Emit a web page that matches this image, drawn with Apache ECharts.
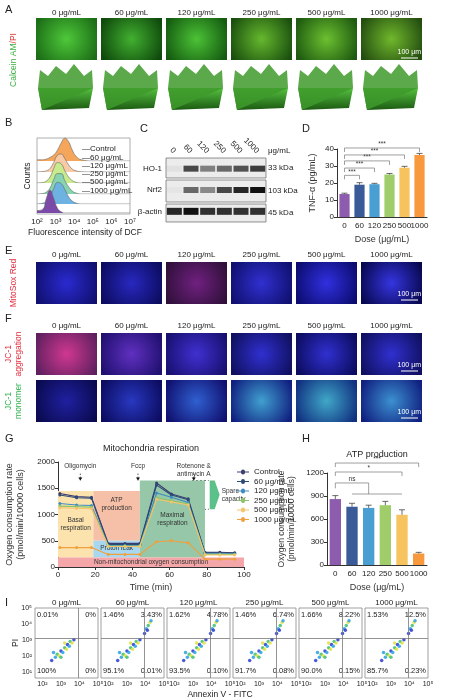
<!DOCTYPE html>
<html><head><meta charset="utf-8">
<script src="https://cdn.jsdelivr.net/npm/echarts@6/dist/echarts.min.js"></script>
<style>html,body{margin:0;padding:0;background:#fff}#c{width:452px;height:700px}</style>
</head><body><div id="c"></div>
<script>
// ---------- DATA ----------
const doses = ['0','60','120','250','500','1000'];
const doseHeaders = ['0 μg/mL','60 μg/mL','120 μg/mL','250 μg/mL','500 μg/mL','1000 μg/mL'];
const barColors = ['#8e5cae','#3b5b98','#4a9fd2','#9fcd6a','#f6c35e','#f7993c'];
// D: TNF-a
const tnfValues = [13.5, 19, 19.3, 25, 29, 36.5];
const tnfErr = [0.5, 1.2, 0.5, 0.6, 0.8, 0.9];
const tnfBrackets = [[1,24.5],[2,28.8],[3,33],[4,36.5],[5,40.6]];
// H: ATP production
const atpValues = [860, 760, 745, 780, 655, 150];
const atpErr = [45, 45, 35, 50, 65, 15];
// G: respiration
const timePoints = [1,10,18,27,36,44,53,61,70,79,87,95];
const gSeriesNames = ['Control','60 μg/mL','120 μg/mL','250 μg/mL','500 μg/mL','1000 μg/mL'];
const gColors = ['#3c3c70','#2b4a78','#3d8bbf','#8cc46c','#f3c46d','#f0a03e'];
const ocrControl = [1400,1340,1330,450,450,450,1600,1390,1300,280,280,270];
const ocr60      = [1370,1320,1310,430,430,430,1560,1370,1280,270,270,260];
const ocr120     = [1210,1180,1170,410,410,410,1410,1330,1230,250,250,250];
const ocr250     = [1160,1150,1140,400,400,400,1320,1260,1200,240,240,240];
const ocr500     = [1130,1120,1110,390,390,390,1290,1240,1180,230,230,230];
const ocr1000    = [370,370,370,240,240,240,480,500,460,150,150,150];
const ocrAll = [ocrControl, ocr60, ocr120, ocr250, ocr500, ocr1000];
// B: DCF histograms (top to bottom)
const histX = [2,2.3,2.5,2.7,2.9,3.1,3.3,3.5,3.7,3.9,4.1,4.4,5,7];
const histRows = [
  [0.05,0.05,0.08,0.15,0.25,0.45,0.75,0.95,0.8,0.45,0.2,0.05,0,0],
  [0,0.02,0.05,0.15,0.4,0.7,0.75,0.55,0.3,0.12,0.05,0.01,0,0],
  [0,0.02,0.08,0.25,0.6,0.85,0.8,0.5,0.25,0.1,0.03,0,0,0],
  [0,0.02,0.08,0.25,0.6,0.85,0.85,0.55,0.3,0.12,0.04,0,0,0],
  [0,0.03,0.1,0.3,0.65,0.9,0.85,0.6,0.3,0.12,0.04,0,0,0],
  [0.1,0.15,0.6,0.95,0.6,0.2,0.05,0,0,0,0,0,0,0]
];
const histColors = ['#f6a65a','#f8caa6','#c8eb8e','#86d4b0','#6eb2e2','#7b4aa8'];
const histLegend = ['Control','60 μg/mL','120 μg/mL','250 μg/mL','500 μg/mL','1000 μg/mL'];
// C: western blot band intensities
const blotRows = ['β-actin','Nrf2','HO-1'];
const bandHO1 = [0.05,0.75,0.5,0.6,0.7,0.8];
const bandNrf2 = [0.03,0.6,0.45,0.75,0.9,1.0];
const bandActin = [0.9,1.0,0.85,0.85,0.85,0.85];
// I: apoptosis quadrants
const quadUL = ['0.01%','1.46%','1.62%','1.46%','1.66%','1.53%'];
const quadUR = ['0%','3.43%','4.78%','6.74%','8.22%','12.5%'];
const quadLL = ['100%','95.1%','93.5%','91.7%','90.0%','85.7%'];
const quadLR = ['0%','0.01%','0.10%','0.08%','0.15%','0.23%'];
const cloudPts = [[2.5,1.7],[2.7,1.9],[2.8,2.1],[2.9,2.0],[3.0,2.3],[3.1,2.2],[3.2,2.5],[3.3,2.4],[3.35,2.7],[3.45,2.6],[3.5,2.9],[3.6,2.8],[3.7,3.0],[2.6,2.2],[3.0,1.9],[3.2,2.8]];
const clusterPts = [[3.95,3.4],[4.05,3.7],[4.15,3.9],[4.25,4.1],[4.1,3.6],[4.3,4.2]];
const pow = ['10⁰','10¹','10²','10³','10⁴','10⁵','10⁶','10⁷'];

// ---------- LAYOUT ----------
const FONT = 'Liberation Sans';
const imgX = [36,101,166,231,296,361], imgW = 61;
const grids = [], xAxes = [], yAxes = [], series = [];
function addGrid(gr, xa, ya){ grids.push(gr); const i = grids.length-1; xa.gridIndex=i; ya.gridIndex=i; xAxes.push(xa); yAxes.push(ya); return i; }
const axisTxt = {fontFamily:FONT, fontSize:8, color:'#222'};
const lineK = {lineStyle:{color:'#333',width:1}};
const plain = v=>String(v);

// B ridges
const ridgeBase = [161,172,183,194,204,213];
addGrid({left:37,top:138,width:93,height:76,show:true,borderColor:'#999',borderWidth:0.8},
  {type:'value',min:2,max:7,interval:1,axisLine:{show:false},axisTick:{show:false},splitLine:{show:false},
   axisLabel:Object.assign({formatter:v=>pow[v],margin:4},axisTxt)},
  {type:'value',min:0,max:1,show:false});
histRows.forEach((row,i)=>{
  const gi = addGrid({left:37,top:ridgeBase[i]-24,width:93,height:24},
    {type:'value',min:2,max:7,show:false},{type:'value',min:0,max:1,show:false});
  series.push({type:'line',xAxisIndex:gi,yAxisIndex:gi,data:histX.map((x,k)=>[x,row[k]]),smooth:0.5,symbol:'none',
    lineStyle:{width:0.6,color:'#666'},areaStyle:{color:histColors[i],opacity:1},z:10+i});
});

// C blot
const cG = addGrid({left:166,top:158,width:100,height:64},
  {type:'category',data:doses,position:'top',axisLine:{show:false},axisTick:{show:false},
   axisLabel:Object.assign({rotate:45,margin:6},axisTxt)},
  {type:'category',data:blotRows,axisLine:{show:false},axisTick:{show:false},
   axisLabel:Object.assign({margin:4},axisTxt)});
[bandActin,bandNrf2,bandHO1].forEach((b,r)=>{
  series.push({type:'scatter',xAxisIndex:cG,yAxisIndex:cG,symbol:'rect',symbolSize:[15,r===0?7:6],
    data:b.map((v,k)=>({value:[k,r],itemStyle:{opacity:v,color:'#111'}})),z:5});
});

// D TNF
const dG = addGrid({left:337,top:149,width:90,height:68},
  {type:'category',data:doses,axisLine:lineK,axisTick:{show:false},axisLabel:Object.assign({margin:5,interval:0},axisTxt),
   name:'Dose (μg/mL)',nameLocation:'middle',nameGap:18,nameTextStyle:{fontFamily:FONT,fontSize:9}},
  {type:'value',min:0,max:40,interval:10,axisLine:Object.assign({show:true},lineK),axisTick:{show:true,length:3},splitLine:{show:false},
   axisLabel:Object.assign({margin:3},axisTxt),name:'TNF-α (pg/mL)',nameLocation:'middle',nameGap:20,nameTextStyle:{fontFamily:FONT,fontSize:9}});
series.push({type:'bar',xAxisIndex:dG,yAxisIndex:dG,barWidth:'68%',data:tnfValues.map((v,i)=>({value:v,itemStyle:{color:barColors[i]}}))});
function errSeries(gi, vals, errs){
  return {type:'custom',xAxisIndex:gi,yAxisIndex:gi,z:5,data:vals.map((v,i)=>[i,v,errs[i]]),
    renderItem:(p,api)=>{const x=api.value(0),v=api.value(1),e=api.value(2);
      const a=api.coord([x,v]),b=api.coord([x,v+e]);
      return {type:'group',children:[
        {type:'line',shape:{x1:a[0],y1:a[1],x2:b[0],y2:b[1]},style:{stroke:'#444',lineWidth:0.8}},
        {type:'line',shape:{x1:b[0]-3,y1:b[1],x2:b[0]+3,y2:b[1]},style:{stroke:'#444',lineWidth:0.8}}]};}};
}
series.push(errSeries(dG,tnfValues,tnfErr));

// G respiration
const gG = addGrid({left:58,top:462,width:186,height:105},
  {type:'value',min:0,max:100,interval:20,axisLine:lineK,axisTick:{length:3},splitLine:{show:false},axisLabel:Object.assign({margin:4},axisTxt),
   name:'Time (min)',nameLocation:'middle',nameGap:16,nameTextStyle:{fontFamily:FONT,fontSize:9}},
  {type:'value',min:0,max:2000,interval:500,axisLine:Object.assign({show:true},lineK),axisTick:{show:true,length:3},splitLine:{show:false},
   axisLabel:Object.assign({margin:3,formatter:plain},axisTxt),name:'Oxygen consumption rate\n(pmol/min/10000 cells)',nameLocation:'middle',nameGap:32,
   nameTextStyle:{fontFamily:FONT,fontSize:9,lineHeight:11}});
const maLbl = (t,pos)=>({show:true,position:pos||'inside',formatter:t,fontFamily:FONT,fontSize:6.5,color:'#333',lineHeight:8});
ocrAll.forEach((arr,i)=>{
  const s = {type:'line',name:gSeriesNames[i],xAxisIndex:gG,yAxisIndex:gG,data:timePoints.map((t,k)=>[t,arr[k]]),
    symbol:'circle',symbolSize:3,lineStyle:{width:1.1,color:gColors[i]},itemStyle:{color:gColors[i]},z:10+i};
  if(i===0){ s.markArea={silent:true,z:1,data:[
    [{coord:[0,180],itemStyle:{color:'#fce3ae'},label:maLbl('Basal\nrespiration')},{coord:[19,1450]}],
    [{coord:[19,500],itemStyle:{color:'#f6c0a8'},label:maLbl('ATP\nproduction','insideTop')},{coord:[44,1450]}],
    [{coord:[19,180],itemStyle:{color:'#a8d8f0'},label:maLbl('Proton leak','insideBottom')},{coord:[44,500]}],
    [{coord:[44,180],itemStyle:{color:'#95c7a8'},label:maLbl('Maximal\nrespiration')},{coord:[79,1650]}],
    [{coord:[0,0],itemStyle:{color:'#f4a6a8'},label:maLbl('Non-mitochondrial oxygen consumption')},{coord:[100,180]}]
  ]}; }
  series.push(s);
});

// H ATP
const hG = addGrid({left:327,top:473,width:100,height:92},
  {type:'category',data:doses,axisLine:lineK,axisTick:{show:false},axisLabel:Object.assign({margin:5,interval:0},axisTxt),
   name:'Dose (μg/mL)',nameLocation:'middle',nameGap:18,nameTextStyle:{fontFamily:FONT,fontSize:9}},
  {type:'value',min:0,max:1200,interval:300,axisLine:Object.assign({show:true},lineK),axisTick:{show:true,length:3},splitLine:{show:false},
   axisLabel:Object.assign({margin:3,formatter:plain},axisTxt),name:'Oxygen consumption rate\n(pmol/min/10000 cells)',nameLocation:'middle',nameGap:30,
   nameTextStyle:{fontFamily:FONT,fontSize:8.5,lineHeight:10}});
series.push({type:'bar',xAxisIndex:hG,yAxisIndex:hG,barWidth:'68%',data:atpValues.map((v,i)=>({value:v,itemStyle:{color:barColors[i]}}))});
series.push(errSeries(hG,atpValues,atpErr));

// I apoptosis
const iX = [35,101,167,233,299,365], iW = 63;
iX.forEach((x,p)=>{
  const gi = addGrid({left:x,top:608,width:iW,height:70,show:true,borderColor:'#888',borderWidth:0.8},
    {type:'value',min:1.6,max:5,interval:1,axisLine:{show:false},axisTick:{show:false},splitLine:{show:false},
     axisLabel:Object.assign({formatter:v=>Number.isInteger(v)?pow[v]:'',margin:3,customValues:[2,3,4,5]},axisTxt,{fontSize:7})},
    {type:'value',min:0.6,max:5,axisLine:{show:false},axisTick:{show:false},splitLine:{show:false},
     axisLabel:Object.assign({show:p===0,formatter:v=>pow[v],margin:3,customValues:[1,2,3,4,5]},axisTxt,{fontSize:7})});
  const pts = p===0? cloudPts : cloudPts.concat(clusterPts);
  series.push({type:'scatter',xAxisIndex:gi,yAxisIndex:gi,data:pts,symbolSize:3.5,
    itemStyle:{color:(d)=>['#2a3bd0','#2aa0e0','#3cc070','#e0e040'][d.dataIndex%4],opacity:0.85},
    markLine:{silent:true,symbol:'none',lineStyle:{color:'#777',width:0.8,type:'solid'},label:{show:false},data:[{xAxis:3.95},{yAxis:3.1}]}});
});

// ---------- GRAPHIC ----------
const g = [];
const txt = (x,y,t,o)=>g.push(Object.assign({type:'text',x,y,style:Object.assign({text:t,fontFamily:FONT,fontSize:8.5,fill:'#222'},o||{})}));
const vtxt = (x,y,t,o)=>g.push({type:'text',x,y,rotation:Math.PI/2,style:Object.assign({text:t,fontFamily:FONT,fontSize:8.5,fill:'#222',align:'center',verticalAlign:'middle'},o||{})});
['A','B','C','D','E','F','G','H','I'].forEach((L,i)=>{
  const pos=[[5,4],[5,117],[140,123],[302,123],[5,245],[5,313],[5,433],[302,433],[5,597]][i];
  txt(pos[0],pos[1],L,{fontSize:11});
});
function headers(y){ doseHeaders.forEach((h,i)=>txt(imgX[i]+imgW/2,y,h,{align:'center',fontSize:8})); }
function rectImg(x,y,w,h,c1,c2){ g.push({type:'rect',shape:{x,y,width:w,height:h},style:{fill:{type:'radial',x:0.5,y:0.5,r:0.8,colorStops:[{offset:0,color:c1},{offset:1,color:c2}]}}}); }
function scale(x,y){ txt(x,y,'100 μm',{fill:'#fff',fontSize:7,align:'right'}); g.push({type:'line',shape:{x1:x-20,y1:y+9,x2:x-3,y2:y+9},style:{stroke:'#fff',lineWidth:1}}); }
// A
headers(9);
const aColors=[['#4ec83a','#1c6e16'],['#42b030','#0f4a0c'],['#4cc236','#145c10'],['#66b82e','#1a500e'],['#6cc030','#1e5a10'],['#70b82c','#244e10']];
imgX.forEach((x,i)=>{ rectImg(x,18,imgW,42,aColors[i][0],aColors[i][1]);
  g.push({type:'polygon',shape:{points:[[x+2,88],[x+imgW-4,88],[x+imgW-8,108],[x+6,110]]},style:{fill:{type:'linear',x:0,y:0,x2:0,y2:1,colorStops:[{offset:0,color:'#55c040'},{offset:1,color:'#1c5a12'}]}}});
  g.push({type:'polygon',shape:{points:[[x+6,110],[x+2,88],[x+4,70],[x+12,76],[x+20,66],[x+30,74],[x+38,64],[x+48,76],[x+56,70],[x+imgW-4,88]]},style:{fill:'#3e9a2c',opacity:0.85}});
});
scale(421,49);
g.push({type:'text',x:14,y:60,rotation:Math.PI/2,style:{rich:{a:{fill:'#3cb043',fontSize:8.5,fontFamily:FONT},b:{fill:'#e03030',fontSize:8.5,fontFamily:FONT}},text:'{a|Calcein AM}{b|/PI}',align:'center',verticalAlign:'middle'}});
// E
headers(251);
const eColors=[['#2a2ad0','#101070'],['#2828c0','#0c0c60'],['#702080','#30103a'],['#3030d0','#101070'],['#3030e0','#0c0c70'],['#3535e0','#080850']];
imgX.forEach((x,i)=>rectImg(x,262,imgW,42,eColors[i][0],eColors[i][1]));
scale(421,291);
vtxt(14,283,'MitoSox Red',{fill:'#e03040'});
// F
headers(322);
const fA=[['#d03890','#602060'],['#6030c0','#201070'],['#4030d0','#181070'],['#3030d0','#101060'],['#3030d0','#0c0c60'],['#3030d0','#101060']];
const fM=[['#2020a0','#0a0a50'],['#2838c0','#0c0c60'],['#3060d0','#101070'],['#40a0d0','#102080'],['#40a8c8','#103080'],['#3c90d0','#102080']];
imgX.forEach((x,i)=>{rectImg(x,333,imgW,42,fA[i][0],fA[i][1]); rectImg(x,380,imgW,42,fM[i][0],fM[i][1]);});
scale(421,362); scale(421,409);
vtxt(14,354,'JC-1\naggregation',{fill:'#e03040',lineHeight:10});
vtxt(14,401,'JC-1\nmonomer',{fill:'#30b050',lineHeight:10});
// B texts
vtxt(28,176,'Counts');
histLegend.forEach((t,i)=>txt(82,145+i*8.3,'—'+t,{fontSize:8}));
txt(85,228,'Fluorescence intensity of DCF',{align:'center',fontSize:8.5});
// C blot row backgrounds
[[158,20],[180,22],[204,18]].forEach(r=>g.push({type:'rect',z:-1,shape:{x:166,y:r[0],width:100,height:r[1]},style:{fill:'#ececec',stroke:'#666',lineWidth:0.7}}));
txt(268,147,'μg/mL',{fontSize:8});
[['33 kDa',164],['103 kDa',187],['45 kDa',209]].forEach(a=>txt(268,a[1],a[0],{fontSize:8}));
// titles
txt(151,444,'Mitochondria respiration',{align:'center',fontSize:9});
txt(377,450,'ATP production',{align:'center',fontSize:9});
// I
doseHeaders.forEach((h,i)=>txt(iX[i]+iW/2,599,h,{align:'center',fontSize:8}));
txt(220,690,'Annexin V - FITC',{align:'center',fontSize:8.5});
vtxt(16,643,'PI');
iX.forEach((x,i)=>{ txt(x+2,611,quadUL[i],{fontSize:7.5}); txt(x+iW-2,611,quadUR[i],{fontSize:7.5,align:'right'});
  txt(x+2,667,quadLL[i],{fontSize:7.5}); txt(x+iW-2,667,quadLR[i],{fontSize:7.5,align:'right'}); });

const chart = echarts.init(document.getElementById('c'),null,{renderer:'canvas'});
chart.setOption({animation:false,textStyle:{fontFamily:FONT},grid:grids,xAxis:xAxes,yAxis:yAxes,series,
  legend:{data:gSeriesNames,orient:'vertical',left:232,top:463,itemGap:1.5,itemWidth:12,itemHeight:6,
    textStyle:{fontFamily:FONT,fontSize:8,color:'#222'},icon:'path://M0,3L4,3A2,2 0 1 1 8,3L12,3L12,4L8,4A2,2 0 1 1 4,4L0,4Z'},
  graphic:g});

// annotations computed from the axes
const px=(gi,x,y)=>chart.convertToPixel({gridIndex:gi},[x,y]);
const extra=[];
function bracket(gi,x0,x1,v,label,drop){
  const a=px(gi,x0,v),b=px(gi,x1,v); const d=drop===undefined?4:drop;
  extra.push({type:'polyline',shape:{points:[[a[0],a[1]+d],[a[0],a[1]],[b[0],b[1]],[b[0],b[1]+d]]},style:{stroke:'#777',lineWidth:0.7,fill:null}});
  extra.push({type:'text',x:(a[0]+b[0])/2,y:a[1]-7,style:{text:label,fontSize:6.5,fontFamily:FONT,fill:'#333',align:'center'}});
}
tnfBrackets.forEach(b=>bracket(dG,0,b[0],b[1],'***'));
bracket(hG,0,5,1330,'***'); bracket(hG,0,4,1213,'*'); bracket(hG,0,2.4,1070,'ns',0);
(function(){const a=px(hG,0,1070),c=px(hG,0,1000),l=px(hG,1,926),r=px(hG,3.8,926),m=px(hG,2.4,1070),mb=px(hG,2.4,926);
  extra.push({type:'line',shape:{x1:a[0],y1:a[1],x2:c[0],y2:c[1]},style:{stroke:'#777',lineWidth:0.7}});
  extra.push({type:'line',shape:{x1:m[0],y1:m[1],x2:mb[0],y2:mb[1]},style:{stroke:'#777',lineWidth:0.7}});
  extra.push({type:'line',shape:{x1:l[0],y1:l[1],x2:r[0],y2:r[1]},style:{stroke:'#777',lineWidth:0.7}});})();
[[12,'Oligomycin'],[43,'Fccp'],[73,'Rotenone &\nantimycin A']].forEach(([t,n])=>{
  const p=px(gG,t,1950),q=px(gG,t,1780),r=px(gG,t,1650);
  extra.push({type:'text',x:p[0],y:p[1]-2,style:{text:n,fontSize:6.5,fontFamily:FONT,fill:'#333',align:'center',lineHeight:7.5}});
  extra.push({type:'line',shape:{x1:q[0],y1:q[1],x2:r[0],y2:r[1]},style:{stroke:'#333',lineWidth:0.8,lineDash:[1.5,1.5]}});
  extra.push({type:'polygon',shape:{points:[[r[0]-2,r[1]-3],[r[0]+2,r[1]-3],[r[0],r[1]]]},style:{fill:'#111'}});
});
(function(){const a=px(gG,72,1650),b=px(gG,81,1650),c=px(gG,72,1100),d=px(gG,81,1100);
  extra.push({type:'line',shape:{x1:a[0],y1:a[1],x2:b[0],y2:b[1]},style:{stroke:'#333',lineWidth:0.8,lineDash:[2,2]}});
  extra.push({type:'line',shape:{x1:c[0],y1:c[1],x2:d[0],y2:d[1]},style:{stroke:'#333',lineWidth:0.8,lineDash:[2,2]}});
  extra.push({type:'polygon',shape:{points:[[b[0]+1,b[1]],[b[0]+6,b[1]],[b[0]+11,(b[1]+d[1])/2],[b[0]+6,d[1]],[b[0]+1,d[1]]]},style:{fill:'#5cc08a'}});
  extra.push({type:'text',x:b[0]+13,y:(b[1]+d[1])/2-8,style:{text:'Spare\ncapacity',fontSize:6.5,fontFamily:FONT,fill:'#333',lineHeight:8}});})();
chart.setOption({graphic:g.concat(extra)});
</script></body></html>
